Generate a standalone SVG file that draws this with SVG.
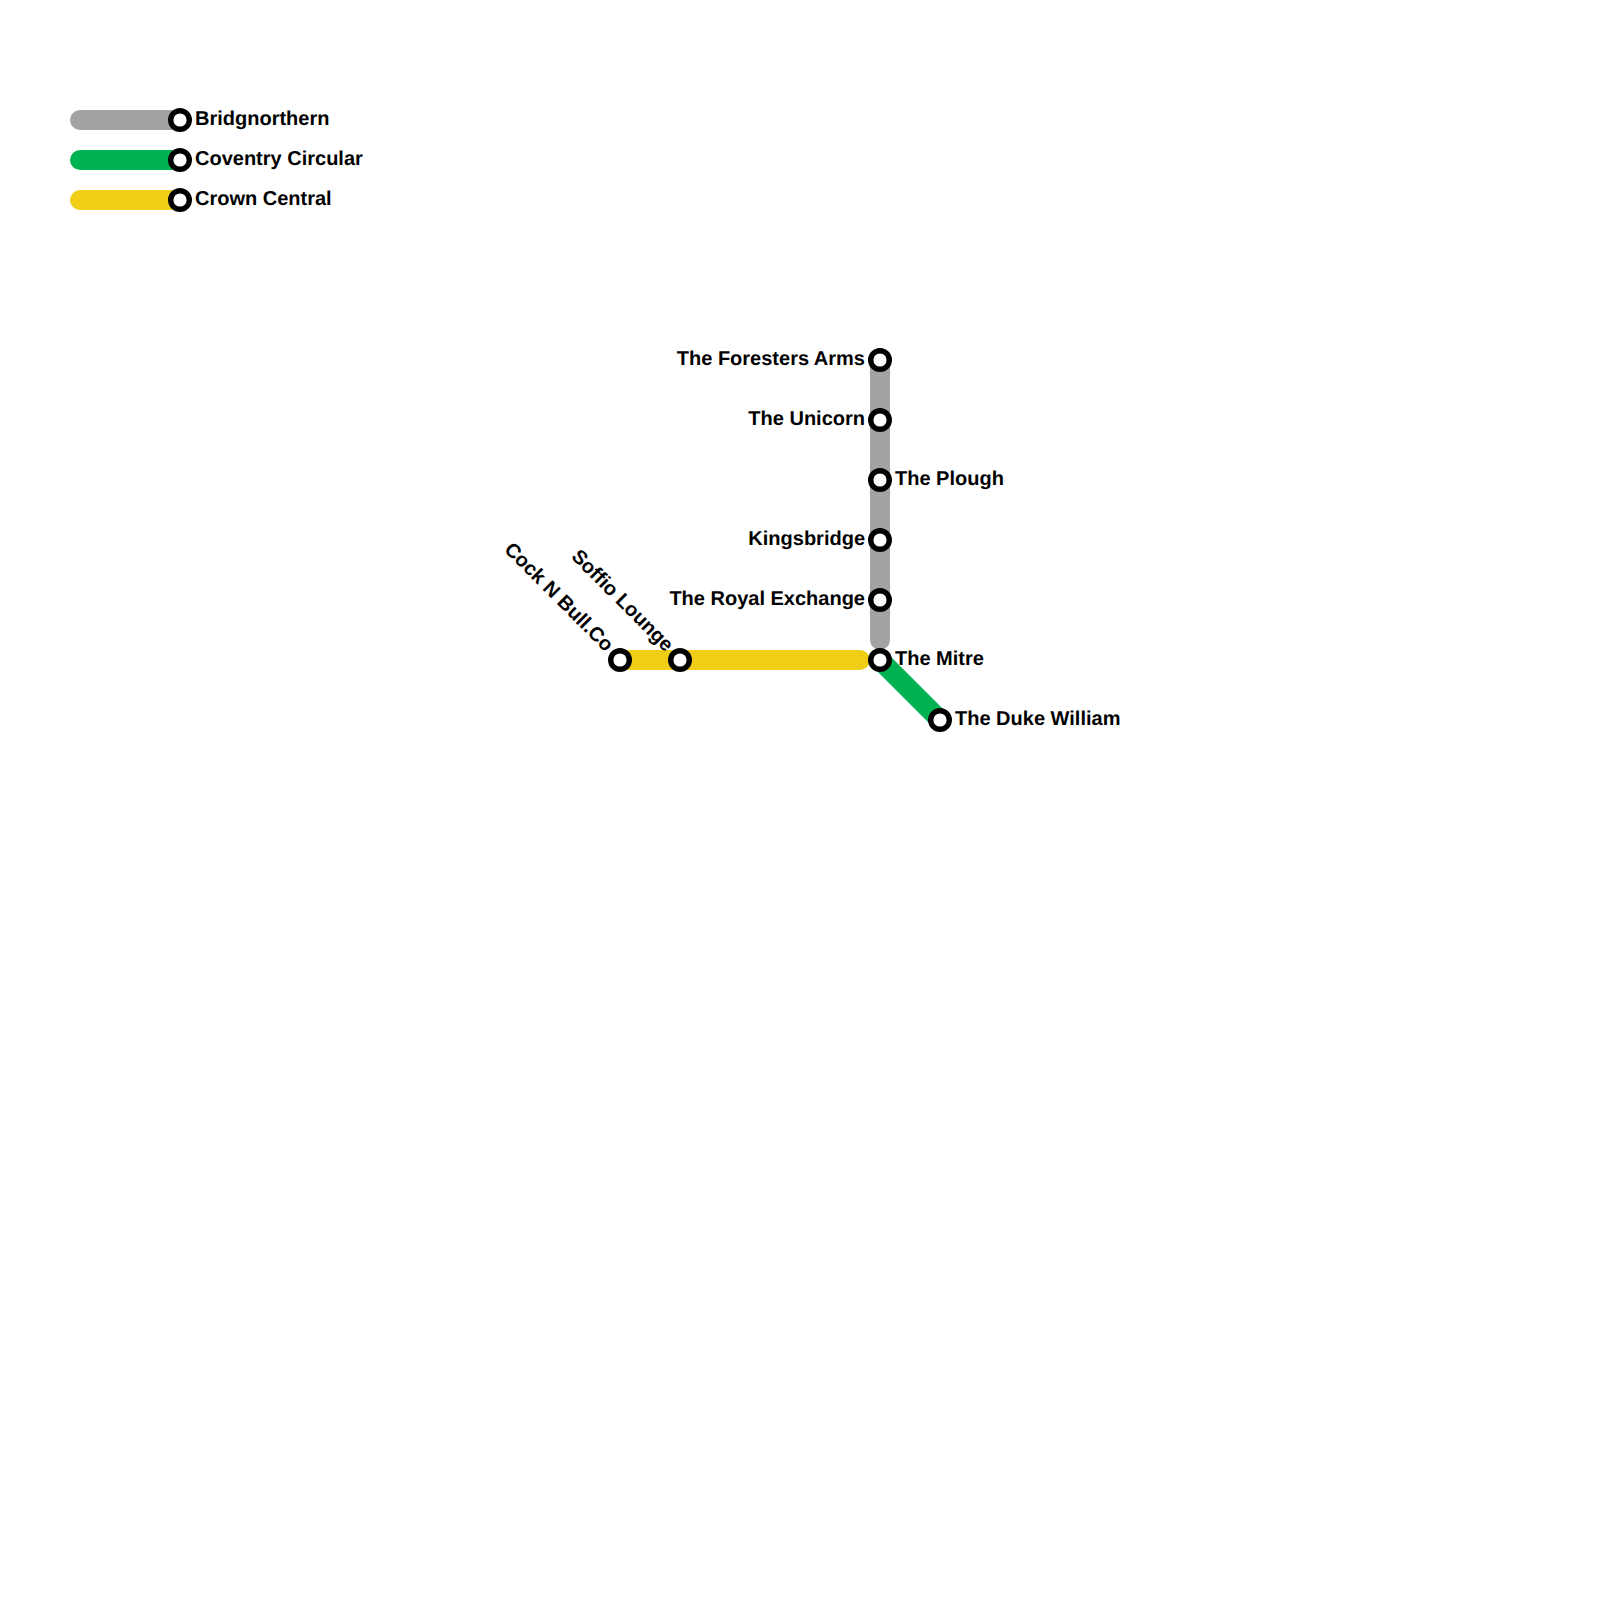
<svg xmlns="http://www.w3.org/2000/svg" width="1600" height="1600" viewBox="0 0 1600 1600">
<style>
.l{fill:none;stroke-width:20;stroke-linecap:round}
.g{stroke:#a3a3a3}.v{stroke:#00b251}.y{stroke:#f0ce15}
.s{fill:#fff;stroke:#000;stroke-width:5.4}
text{font-family:"Liberation Sans",Arial,sans-serif;font-weight:700;font-size:20px;fill:#000;text-rendering:geometricPrecision}
.e{text-anchor:end}
</style>
<rect width="1600" height="1600" fill="#fff"/>
<g id="connectors">
<path class="l g" d="M80 120H180"/>
<path class="l v" d="M80 160H180"/>
<path class="l y" d="M80 200H180"/>
<path class="l g" d="M880 360V640"/>
<path class="l y" d="M620 660H860"/>
<path class="l v" style="stroke-linecap:butt" d="M880 660L940 720"/>
</g>
<g id="legend-bridgnorthern"><circle class="s" cx="180" cy="120" r="9.3"/><text x="195" y="125">Bridgnorthern</text></g>
<g id="legend-coventry"><circle class="s" cx="180" cy="160" r="9.3"/><text x="195" y="165">Coventry Circular</text></g>
<g id="legend-crown"><circle class="s" cx="180" cy="200" r="9.3"/><text x="195" y="205">Crown Central</text></g>
<g id="foresters"><circle class="s" cx="880" cy="360" r="9.3"/><text class="e" x="865" y="365">The Foresters Arms</text></g>
<g id="unicorn"><circle class="s" cx="880" cy="420" r="9.3"/><text class="e" x="865" y="425">The Unicorn</text></g>
<g id="plough"><circle class="s" cx="880" cy="480" r="9.3"/><text x="895" y="485">The Plough</text></g>
<g id="kingsbridge"><circle class="s" cx="880" cy="540" r="9.3"/><text class="e" x="865" y="545">Kingsbridge</text></g>
<g id="royal-exchange"><circle class="s" cx="880" cy="600" r="9.3"/><text class="e" x="865" y="605">The Royal Exchange</text></g>
<g id="mitre"><circle class="s" cx="880" cy="660" r="9.3"/><text x="895" y="665">The Mitre</text></g>
<g id="duke-william"><circle class="s" cx="940" cy="720" r="9.3"/><text x="955" y="725">The Duke William</text></g>
<g id="cock-n-bull"><circle class="s" cx="620" cy="660" r="9.3"/><text class="e" transform="translate(609 649) rotate(45)" x="0" y="5">Cock N Bull.Co</text></g>
<g id="soffio"><circle class="s" cx="680" cy="660" r="9.3"/><text class="e" transform="translate(669 649) rotate(45)" x="0" y="5">Soffio Lounge</text></g>
</svg>
